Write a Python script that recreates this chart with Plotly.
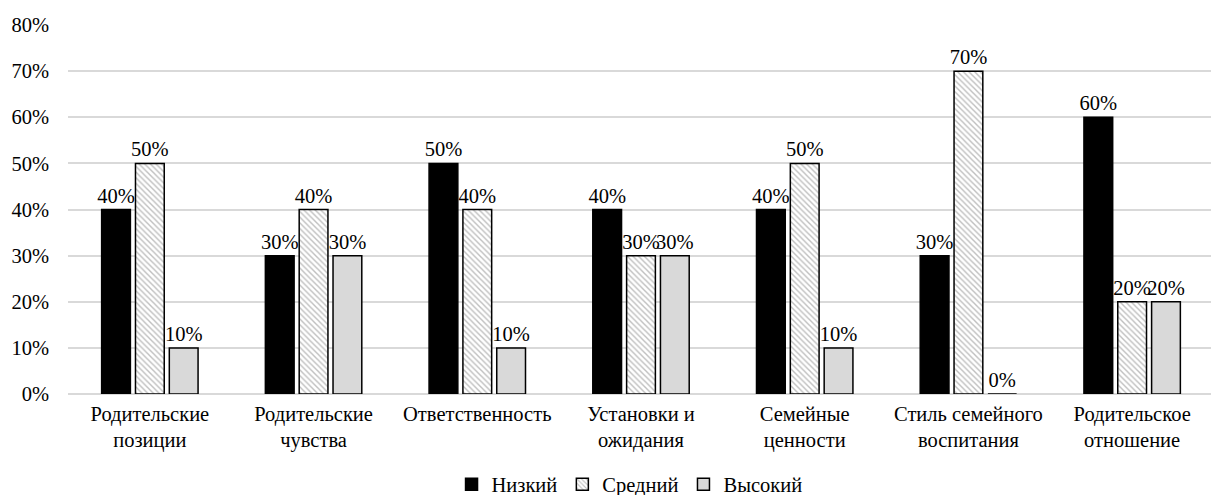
import plotly.graph_objects as go

categories = ["Родительские<br>позиции", "Родительские<br>чувства", "Ответственность",
              "Установки и<br>ожидания", "Семейные<br>ценности", "Стиль семейного<br>воспитания",
              "Родительское<br>отношение"]
low = [40, 30, 50, 40, 40, 30, 60]
mid = [50, 40, 40, 30, 50, 70, 20]
high = [10, 30, 10, 30, 10, 0, 20]
series_names = ["Низкий", "Средний", "Высокий"]
y_ticks = [0, 10, 20, 30, 40, 50, 60, 70, 80]

FONT = "Liberation Serif"
FS = 20.5

fig = go.Figure()
fig.add_trace(go.Bar(name=series_names[0], x=categories, y=low,
                     marker=dict(color="black", line=dict(color="black", width=1.5)),
                     text=[f"{v}%" for v in low]))
fig.add_trace(go.Bar(name=series_names[1], x=categories, y=mid,
                     marker=dict(color="white", line=dict(color="black", width=1.5),
                                 pattern=dict(shape="\\", fgcolor="#808080", bgcolor="white",
                                              size=4, solidity=0.35)),
                     text=[f"{v}%" for v in mid]))
fig.add_trace(go.Bar(name=series_names[2], x=categories, y=high,
                     marker=dict(color="#d9d9d9", line=dict(color="black", width=1.5)),
                     text=[f"{v}%" for v in high]))
fig.update_traces(textposition="outside", cliponaxis=False, constraintext="none",
                  textfont=dict(family=FONT, size=FS, color="black"))

fig.update_layout(
    width=1211, height=487,
    margin=dict(l=60, r=5, t=17, b=101, autoexpand=False),
    paper_bgcolor="white", plot_bgcolor="white",
    font=dict(family=FONT, size=FS, color="black"),
    barmode="group", bargap=0.38, bargroupgap=0.15,
    showlegend=True,
    legend=dict(orientation="h", x=0.49, xanchor="center", y=-0.245, yanchor="middle",
                font=dict(size=FS), itemwidth=30, traceorder="normal"),
)
fig.update_xaxes(showgrid=False, showline=False, ticks="", tickfont=dict(size=FS),
                 ticklabelstandoff=5, automargin=False)
fig.update_yaxes(range=[0, 80], tickvals=y_ticks, ticktext=[f"{v}%" for v in y_ticks],
                 showgrid=True, gridcolor="#d9d9d9", gridwidth=1.5, zeroline=True,
                 zerolinecolor="#d9d9d9", zerolinewidth=1.5, showline=False, ticks="",
                 ticklabelstandoff=18, tickfont=dict(size=FS), automargin=False)

fig.write_html("out.html")
